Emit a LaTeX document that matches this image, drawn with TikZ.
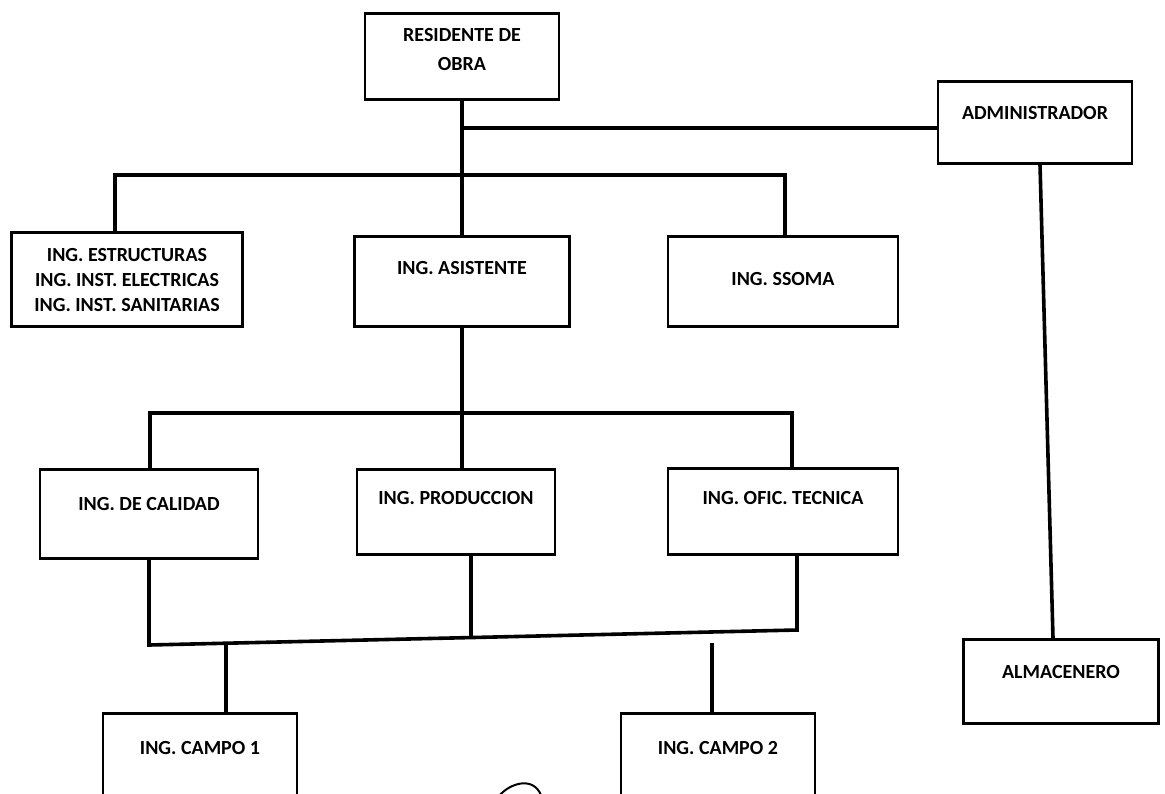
\documentclass[tikz,border=0pt]{standalone}
\usepackage{fontspec}
\setmainfont{Carlito}
\usepackage{tikz}
\usetikzlibrary{positioning, calc}
\newcommand{\lines}[1]{\begin{tabular}[t]{@{}c@{}}#1\end{tabular}}

\begin{document}
\begin{tikzpicture}[
  x=1pt, y=-1pt,
  box/.style={draw=black, line width=2.6pt, anchor=north, inner sep=0pt,
              font=\fontsize{20}{25}\selectfont\bfseries,
              minimum width=194pt, text height=38pt, text depth=50pt},
  link/.style={draw=black, line width=3.6pt}]

  \path[use as bounding box, clip] (0,0) rectangle (1165,793);

  % --- top: resident and administrator
  \node[box, text height=28pt, text depth=58pt] (res) at (462, 12)
    {\lines{RESIDENTE DE\\[4pt] OBRA}};
  \node[box, text depth=44pt] (adm) at (1035, 80) {ADMINISTRADOR};

  % --- second row
  \node[box, minimum width=231pt, text height=29pt, text depth=65pt] (est) at (127, 231)
    {\lines{ING. ESTRUCTURAS\\ ING. INST. ELECTRICAS\\ ING. INST. SANITARIAS}};
  \node[box, minimum width=215pt, text depth=52pt] (asi) at (462, 235) {ING. ASISTENTE};
  \node[box, minimum width=230pt, text height=49pt, text depth=41pt] (sso) at (783, 235) {ING. SSOMA};

  \coordinate (junc) at (462, 128);
  \coordinate (busL) at (115, 175);
  \coordinate (busR) at (785, 175);
  \draw[link] (res.south) -- (asi.north);
  \draw[link] (junc) -- (junc -| adm.west);
  \draw[link] (busL |- est.north) -- (busL) -- (busR) -- (busR |- sso.north);

  % --- third row
  \node[box, minimum width=218pt, text height=41pt, text depth=48pt] (cal) at (149, 468) {ING. DE CALIDAD};
  \node[box, minimum width=198pt, text height=35pt, text depth=50pt] (pro) at (456, 468) {ING. PRODUCCION};
  \node[box, minimum width=230pt, text height=36pt, text depth=50pt] (ofi) at (783, 467) {ING. OFIC. TECNICA};

  \coordinate (midL) at (150, 413);
  \coordinate (midR) at (792, 413);
  \draw[link] (asi.south) -- (asi.south |- pro.north);
  \draw[link] (midL |- cal.north) -- (midL) -- (midR) -- (midR |- ofi.north);

  % --- field engineers, the line under the third row runs a little uphill
  \coordinate (botL) at (145, 645);
  \coordinate (botR) at (797, 630);
  \coordinate (prodrop) at ($(botL)!0.5!(botR)$);
  \coordinate (c1top) at ($(botL)!0.124!(botR)$);
  \coordinate (c2top) at (712, 643);
  \node[box, text height=41pt, text depth=59pt] (c1) at (200, 712) {ING. CAMPO 1};
  \node[box, text height=41pt, text depth=59pt] (c2) at (718, 712) {ING. CAMPO 2};

  \draw[link] (cal.south) -- (cal.south |- botL) -- (botR) -- (botR |- ofi.south);
  \draw[link] (prodrop |- pro.south) -- (prodrop);
  \draw[link] (c1top) -- (c1top |- c1.north);
  \draw[link] (c2top) -- (c2top |- c2.north);

  % --- store keeper under the administrator
  \node[box, minimum width=195pt, text height=39pt, text depth=45pt] (alm) at (1061, 638) {ALMACENERO};
  \draw[link] ([xshift=5pt]adm.south) -- ([xshift=-8pt]alm.north);

  % pen stroke at the foot of the page
  \draw[line width=2pt, line cap=round] (499, 796) .. controls (510, 783) and (533, 776) .. (541, 795);
\end{tikzpicture}
\end{document}
